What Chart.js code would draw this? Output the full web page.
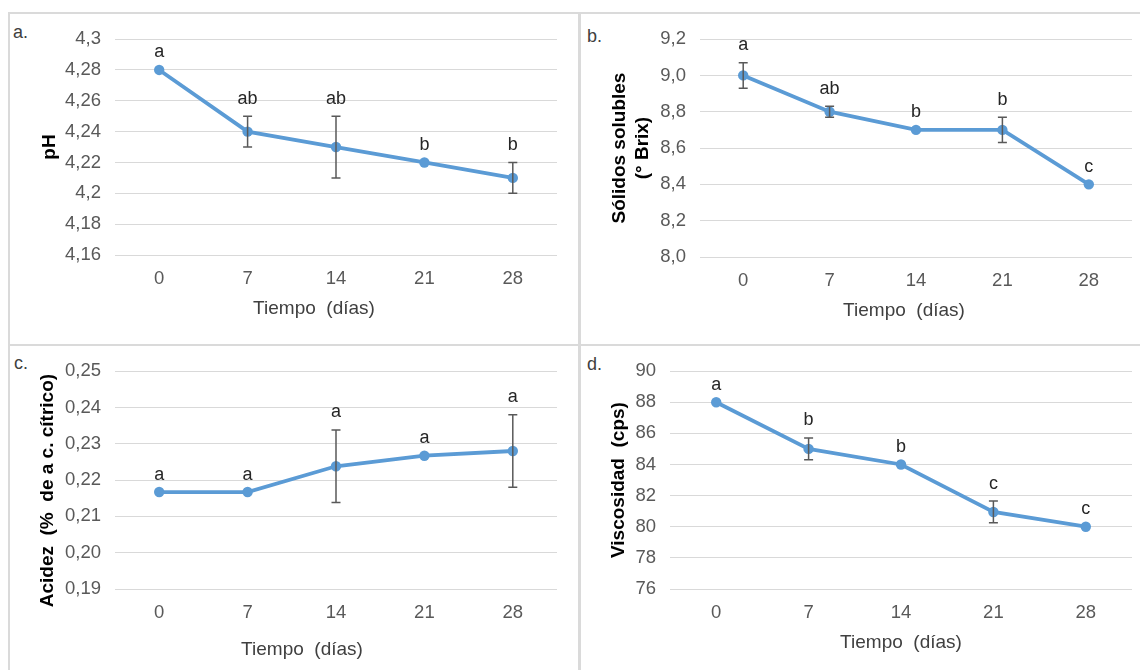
<!DOCTYPE html>
<html lang="es">
<head>
<meta charset="UTF-8">
<title>Evolución durante el almacenamiento</title>
<script src="https://cdn.jsdelivr.net/npm/chart.js"></script>
<style>
    body {
        margin: 0;
        width: 1140px;
        height: 670px;
        background: #fff;
        position: relative;
        overflow: hidden;
        font-family: "Liberation Sans", Arial, sans-serif;
    }
    .rule { position: absolute; background: #dadada; }
    canvas { position: absolute; }
    .tag { position: absolute; font-size: 18px; color: #404040; line-height: 1; }
</style>
</head>
<body>
<div class="rule" style="left:9px; top:12px; width:1131px; height:2px;"></div>
<div class="rule" style="left:9px; top:344px; width:1131px; height:2px;"></div>
<div class="rule" style="left:8px; top:12px; width:2px; height:658px;"></div>
<div class="rule" style="left:578px; top:12px; width:3px; height:658px;"></div>

<div class="tag" style="left:13px; top:23px;">a.</div>
<div class="tag" style="left:587px; top:27px;">b.</div>
<div class="tag" style="left:14px; top:354px;">c.</div>
<div class="tag" style="left:587px; top:355px;">d.</div>

<canvas id="chartA"></canvas>
<canvas id="chartB"></canvas>
<canvas id="chartC"></canvas>
<canvas id="chartD"></canvas>

<script>
// days of storage
const dias = ['0', '7', '14', '21', '28'];

// a. pH
const phValues = [4.28, 4.24, 4.23, 4.22, 4.21];
const phErrors = [0, 0.01, 0.02, 0, 0.01];
const phLetters = ['a', 'ab', 'ab', 'b', 'b'];
const phTicks = ['4,16', '4,18', '4,2', '4,22', '4,24', '4,26', '4,28', '4,3'];

// b. soluble solids
const brixValues = [9.0, 8.8, 8.7, 8.7, 8.4];
const brixErrors = [0.07, 0.03, 0, 0.07, 0];
const brixLetters = ['a', 'ab', 'b', 'b', 'c'];
const brixTicks = ['8,0', '8,2', '8,4', '8,6', '8,8', '9,0', '9,2'];

// c. acidity
const acidValues = [0.2167, 0.2167, 0.2238, 0.2267, 0.228];
const acidErrors = [0, 0, 0.01, 0, 0.01];
const acidLetters = ['a', 'a', 'a', 'a', 'a'];
const acidTicks = ['0,19', '0,20', '0,21', '0,22', '0,23', '0,24', '0,25'];

// d. viscosity
const viscValues = [88, 85, 84, 80.95, 80];
const viscErrors = [0, 0.7, 0, 0.7, 0];
const viscLetters = ['a', 'b', 'b', 'c', 'c'];
const viscTicks = ['76', '78', '80', '82', '84', '86', '88', '90'];

const FONT = '"Liberation Sans", Arial, sans-serif';
const BLUE = '#5b9bd5';
const TICK_SIZE = 18.5;
const TITLE_SIZE = 19;

// error bars, significance letters and the x title (Excel puts it off-centre)
const annotations = {
    id: 'annotations',
    afterDatasetsDraw(chart, args, opts) {
        const ctx = chart.ctx;
        const meta = chart.getDatasetMeta(0);
        const y = chart.scales.y;
        ctx.save();
        meta.data.forEach((pt, i) => {
            const v = opts.values[i];
            const e = opts.errors[i];
            let top = pt.y;
            if (e > 0) {
                const yTop = y.getPixelForValue(v + e);
                const yBot = y.getPixelForValue(v - e);
                ctx.strokeStyle = '#595959';
                ctx.lineWidth = 1.5;
                ctx.beginPath();
                ctx.moveTo(pt.x, yTop);
                ctx.lineTo(pt.x, yBot);
                ctx.moveTo(pt.x - 4.5, yTop);
                ctx.lineTo(pt.x + 4.5, yTop);
                ctx.moveTo(pt.x - 4.5, yBot);
                ctx.lineTo(pt.x + 4.5, yBot);
                ctx.stroke();
                top = yTop;
            }
            ctx.fillStyle = '#262626';
            ctx.font = '18px ' + FONT;
            ctx.textAlign = 'center';
            ctx.textBaseline = 'middle';
            ctx.fillText(opts.letters[i], pt.x, top - 17.5);
        });
        ctx.fillStyle = '#404040';
        ctx.font = TITLE_SIZE + 'px ' + FONT;
        ctx.textAlign = 'center';
        ctx.textBaseline = 'middle';
        ctx.fillText('Tiempo  (días)', opts.titleX, opts.titleY);
        ctx.restore();
    }
};

function makePanel(id, p) {
    const canvas = document.getElementById(id);
    const w = p.box.r - p.box.l;
    const h = p.box.b - p.box.t;
    canvas.width = w;
    canvas.height = h;
    canvas.style.left = p.box.l + 'px';
    canvas.style.top = p.box.t + 'px';

    const left = p.area.l - p.box.l;
    const right = p.area.r - p.box.l;
    const top = p.area.t - p.box.t;
    const bottom = p.area.b - p.box.t;
    // y title centre -> left padding (title padding 4 + half of the title block)
    const padLeft = (p.yTitleX - p.box.l) - 4 - p.yTitleLines * TITLE_SIZE * 1.2 / 2;

    return new Chart(canvas, {
        type: 'line',
        data: {
            labels: dias,
            datasets: [{
                data: p.values,
                borderColor: BLUE,
                backgroundColor: BLUE,
                borderWidth: 3.8,
                pointRadius: 5.2,
                pointHoverRadius: 5.2,
                pointBorderWidth: 0,
                tension: 0
            }]
        },
        options: {
            responsive: false,
            animation: false,
            events: [],
            layout: {
                padding: { left: padLeft, right: w - right, top: top, bottom: 0 }
            },
            plugins: {
                legend: { display: false },
                tooltip: { enabled: false },
                annotations: {
                    values: p.values, errors: p.errors, letters: p.letters,
                    titleX: p.xTitleX - p.box.l, titleY: p.xTitleY - p.box.t
                }
            },
            scales: {
                x: {
                    offset: true,
                    grid: { display: false },
                    border: { display: false },
                    ticks: { color: '#595959', font: { family: FONT, size: TICK_SIZE }, padding: 5 },
                    afterFit(scale) { scale.height = h - bottom; }
                },
                y: {
                    min: p.min,
                    max: p.max,
                    grid: { color: '#d9d9d9', lineWidth: 1, drawTicks: false },
                    border: { display: false },
                    ticks: {
                        stepSize: p.step,
                        color: '#595959',
                        font: { family: FONT, size: TICK_SIZE },
                        padding: 14,
                        callback: (v, i) => p.ticks[i]
                    },
                    title: {
                        display: true,
                        text: p.yTitle,
                        color: '#000',
                        font: { family: FONT, size: TITLE_SIZE, weight: 'bold' }
                    },
                    afterFit(scale) { scale.width = left - padLeft; }
                }
            }
        },
        plugins: [annotations]
    });
}

makePanel('chartA', {
    box: { l: 10, r: 578, t: 14, b: 344 },
    area: { l: 115, r: 557, t: 35, b: 255 },
    yTitleX: 50, yTitleLines: 1, xTitleX: 314, xTitleY: 309,
    values: phValues, errors: phErrors, letters: phLetters, ticks: phTicks,
    min: 4.16, max: 4.3, step: 0.02,
    yTitle: 'pH'
});

makePanel('chartB', {
    box: { l: 581, r: 1140, t: 14, b: 344 },
    area: { l: 700, r: 1132, t: 34, b: 257 },
    yTitleX: 631, yTitleLines: 2, xTitleX: 904, xTitleY: 311,
    values: brixValues, errors: brixErrors, letters: brixLetters, ticks: brixTicks,
    min: 8.0, max: 9.2, step: 0.2,
    yTitle: ['Sólidos solubles', '(° Brix)']
});

makePanel('chartC', {
    box: { l: 10, r: 578, t: 346, b: 670 },
    area: { l: 115, r: 557, t: 368, b: 589 },
    yTitleX: 48, yTitleLines: 1, xTitleX: 302, xTitleY: 650,
    values: acidValues, errors: acidErrors, letters: acidLetters, ticks: acidTicks,
    min: 0.19, max: 0.25, step: 0.01,
    // trailing spaces push the rotated title down, as in the original
    yTitle: 'Acidez  (%  de a c. cítrico)    '
});

makePanel('chartD', {
    box: { l: 581, r: 1140, t: 346, b: 670 },
    area: { l: 670, r: 1132, t: 366, b: 589 },
    yTitleX: 619, yTitleLines: 1, xTitleX: 901, xTitleY: 643,
    values: viscValues, errors: viscErrors, letters: viscLetters, ticks: viscTicks,
    min: 76, max: 90, step: 2,
    yTitle: 'Viscosidad  (cps)'
});
</script>
</body>
</html>
